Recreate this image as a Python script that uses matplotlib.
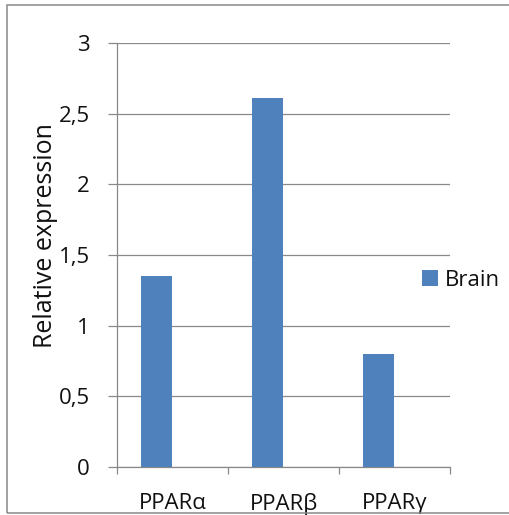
import matplotlib
matplotlib.use("Agg")
import matplotlib.pyplot as plt
from matplotlib.patches import Rectangle

# data
genes = ["PPARα", "PPARβ", "PPARγ"]
brain = [1.35, 2.61, 0.80]
y_ticks = [0, 0.5, 1, 1.5, 2, 2.5, 3]
y_tick_labels = ["0", "0,5", "1", "1,5", "2", "2,5", "3"]

W, H = 509, 515
plt.rcParams['font.family'] = ['Open Sans', 'DejaVu Sans']

fig = plt.figure(figsize=(W / 100, H / 100), dpi=100)
ax = fig.add_axes([117 / W, (H - 467) / H, (450 - 117) / W, (467 - 43) / H])

grey = "#898989"
bar_col = "#4F81BD"

x = list(range(len(genes)))
ax.bar([i - 0.145 for i in x], brain, width=0.28, color=bar_col, label="Brain", zorder=3)

ax.set_xlim(-0.5, len(genes) - 0.5)
ax.set_ylim(0, 3)
ax.set_yticks(y_ticks)
ax.set_yticklabels(y_tick_labels)
ax.yaxis.grid(True, color=grey, linewidth=0.9)
ax.set_axisbelow(True)

# category boundaries carry the ticks, labels sit at the centres
ax.set_xticks([i - 0.5 for i in range(len(genes) + 1)])
ax.set_xticklabels([])
ax.set_xticks(x, minor=True)
ax.set_xticklabels(genes, minor=True)
ax.tick_params(axis='x', which='major', length=5, width=0.9, color=grey)
ax.tick_params(axis='x', which='minor', length=0, pad=19, labelsize=16, labelcolor="#111111")
ax.tick_params(axis='y', length=6.5, width=0.9, color=grey, pad=13, labelsize=16, labelcolor="#111111")

for s in ["top", "right"]:
    ax.spines[s].set_visible(False)
for s in ["left", "bottom"]:
    ax.spines[s].set_color(grey)
    ax.spines[s].set_linewidth(0.9)

ax.set_ylabel("Relative expression", fontsize=18, color="#111111")
ax.yaxis.set_label_coords((58 - 117) / (450 - 117), (467 - 236) / (467 - 43))

fig.legend(loc="center left", bbox_to_anchor=(422 / W, (H - 280) / H),
           bbox_transform=fig.transFigure, frameon=False, fontsize=16,
           handlelength=0.72, handleheight=0.72, handletextpad=0.3,
           borderpad=0, borderaxespad=0, labelcolor="#111111")

fig.add_artist(Rectangle((7 / W, 2 / H), 1.0, (513 - 5) / H, transform=fig.transFigure,
                         fill=False, edgecolor=grey, linewidth=1.1))

fig.savefig("out.png", dpi=100)
